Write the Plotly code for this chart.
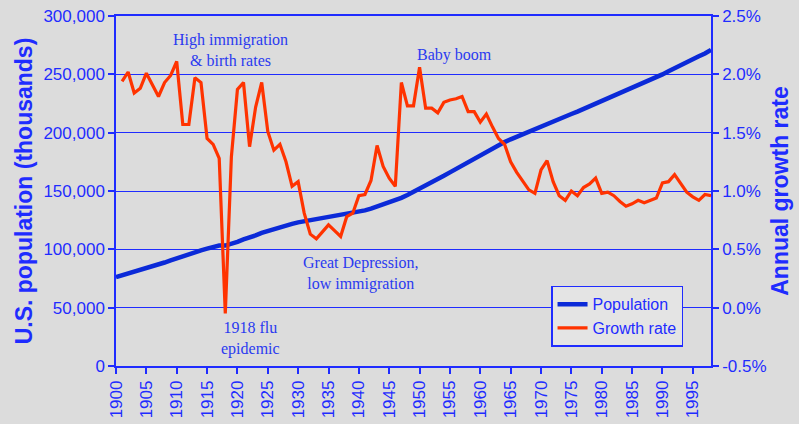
import plotly.graph_objects as go

years = list(range(1900, 1999))
population = [
    76094, 77584, 79163, 80632, 82166, 83822, 85450, 87008, 88710, 90490,
    92407, 93863, 95335, 97225, 99111, 100546, 101961, 103268, 103208, 104514,
    106461, 108538, 110049, 111947, 114109, 115829, 117397, 119035, 120509, 121767,
    123077, 124040, 124840, 125579, 126374, 127250, 128053, 128825, 129825, 130880,
    132122, 133402, 134860, 136739, 138397, 139928, 141389, 144126, 146631, 149188,
    152271, 154878, 157553, 160184, 163026, 165931, 168903, 171984, 174882, 177830,
    180671, 183691, 186538, 189242, 191889, 194303, 196560, 198712, 200706, 202677,
    205052, 207661, 209896, 211909, 213854, 215973, 218035, 220239, 222585, 225055,
    227726, 229966, 232188, 234307, 236348, 238466, 240651, 242804, 245021, 247342,
    249913, 252650, 255419, 258137, 260660, 263034, 265453, 267901, 271000,
]

growth_years = list(range(1901, 1999))
growth_rate = [
    1.94, 2.02, 1.84, 1.88, 2.01, 1.91, 1.81, 1.93, 1.99,
    2.11, 1.57, 1.57, 1.97, 1.93, 1.45, 1.40, 1.28, -0.05, 1.29,
    1.87, 1.93, 1.38, 1.72, 1.93, 1.51, 1.35, 1.40, 1.25, 1.04,
    1.08, 0.81, 0.63, 0.59, 0.65, 0.71, 0.66, 0.61, 0.78, 0.81,
    0.96, 0.97, 1.09, 1.39, 1.21, 1.11, 1.04, 1.93, 1.73, 1.73,
    2.06, 1.71, 1.71, 1.67, 1.76, 1.78, 1.79, 1.81, 1.68, 1.68,
    1.59, 1.66, 1.55, 1.45, 1.40, 1.25, 1.16, 1.08, 1.01, 0.98,
    1.18, 1.26, 1.08, 0.96, 0.92, 1.00, 0.96, 1.03, 1.06, 1.11,
    0.98, 0.99, 0.96, 0.91, 0.87, 0.89, 0.92, 0.90, 0.92, 0.94,
    1.07, 1.08, 1.14, 1.07, 0.99, 0.95, 0.92, 0.97, 0.96,
]

x_ticks = list(range(1900, 1996, 5))
pop_ticks = list(range(0, 300001, 50000))
rate_ticks = [-0.5, 0.0, 0.5, 1.0, 1.5, 2.0, 2.5]

notes = [
    ("High immigration<br>& birth rates", 1918.9, 270500),
    ("Baby boom", 1955.7, 266500),
    ("Great Depression,<br>low immigration", 1940.4, 79000),
    ("1918 flu<br>epidemic", 1922.2, 24000),
]

BLUE = "#1f2cff"
TXT = "#2a3af0"
SANS = "Liberation Sans, Arial, sans-serif"

fig = go.Figure()
fig.add_trace(go.Scatter(x=years, y=population, name="Population", mode="lines",
                         line=dict(color="#0b2ad8", width=4.5), yaxis="y"))
fig.add_trace(go.Scatter(x=growth_years, y=growth_rate, name="Growth rate", mode="lines",
                         line=dict(color="#ff3300", width=3.2), yaxis="y2"))

for text, xv, yv in notes:
    fig.add_annotation(text=text, x=xv, y=yv, xref="x", yref="y", showarrow=False,
                       font=dict(family="Liberation Serif, Times New Roman, serif",
                                 size=16, color=TXT),
                       align="center")

axis_font = dict(family=SANS, size=17, color=BLUE)

fig.update_layout(
    width=799, height=424,
    margin=dict(l=116, r=88, t=16, b=58, autoexpand=False),
    paper_bgcolor="#dcdcdc", plot_bgcolor="#dcdcdc",
    showlegend=True,
    legend=dict(x=0.953, y=0.055, xanchor="right", yanchor="bottom",
                bgcolor="#e4e4e4", bordercolor=BLUE, borderwidth=1.5,
                font=dict(family=SANS, size=16, color=BLUE),
                tracegroupgap=0, itemwidth=30),
    xaxis=dict(range=[1900, 1998], tickvals=x_ticks, ticktext=[str(v) for v in x_ticks],
               tickangle=-90, showgrid=False, zeroline=False, automargin=False,
               showline=True, linecolor=BLUE, linewidth=1.5, mirror=True,
               ticks="outside", ticklen=6, tickcolor=BLUE, tickwidth=1.5,
               tickfont=dict(family=SANS, size=17, color=BLUE)),
    yaxis=dict(range=[0, 300000], tickvals=pop_ticks, tickformat=",",
               showgrid=True, gridcolor=BLUE, gridwidth=1.2, zeroline=False,
               showline=True, linecolor=BLUE, linewidth=1.5, automargin=False,
               ticks="outside", ticklen=6, tickcolor=BLUE, tickwidth=1.5,
               tickfont=axis_font,
               title=dict(text="<b>U.S. population (thousands)</b>", standoff=4,
                          font=dict(family=SANS, size=23, color=BLUE))),
    yaxis2=dict(range=[-0.5, 2.5], tickvals=rate_ticks,
                ticktext=[f"{v:.1f}%" for v in rate_ticks],
                overlaying="y", side="right", showgrid=False, zeroline=False,
                showline=True, linecolor=BLUE, linewidth=1.5, automargin=False,
                ticks="outside", ticklen=6, tickcolor=BLUE, tickwidth=1.5,
                tickfont=axis_font,
                title=dict(text="<b>Annual growth rate</b>", standoff=6,
                           font=dict(family=SANS, size=23, color=BLUE))),
)

fig.write_html("out.html",
               config={"displayModeBar": False},
               post_script="document.body.style.margin='0';"
                           "document.body.style.background='#dcdcdc';"
                           "document.body.style.overflow='hidden';")
